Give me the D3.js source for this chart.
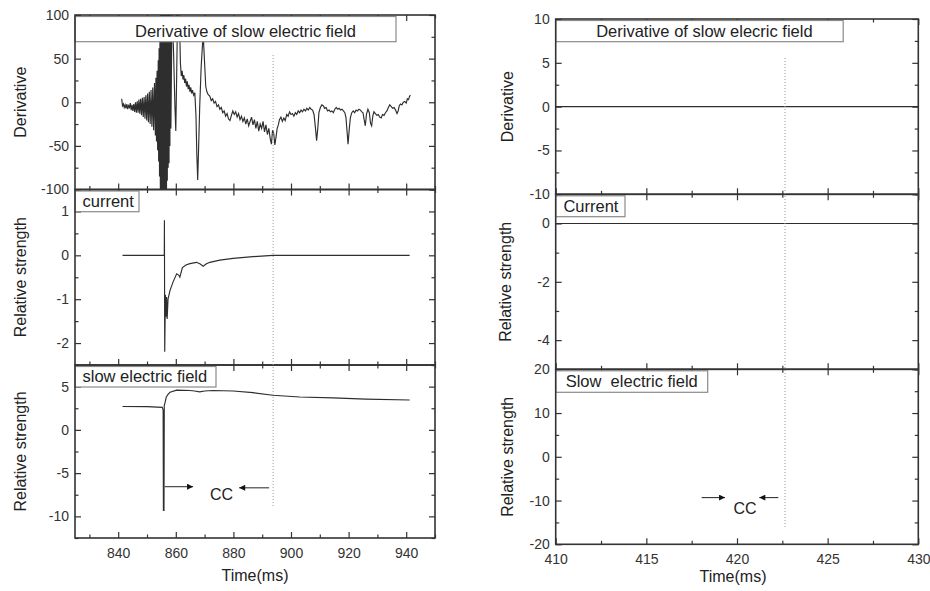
<!DOCTYPE html>
<html>
<head>
<meta charset="utf-8">
<script src="https://cdn.jsdelivr.net/npm/d3@7"></script>
<style>
  body { margin: 0; background: #fff; }
  svg { display: block; font-family: "Liberation Sans", Arial, sans-serif; }
</style>
</head>
<body>
<svg id="chart" width="930" height="591"></svg>
<script>
/*********************************
   DATA
 *********************************/

// Derivative Of Slow Electric Field (Left) As [time ms, value]
const derivPoints = [
  [841.2, 4], [841.5, -4], [841.8, -2], [842.1, -6], [842.4, -3], [842.7, -7], [843.0, -2], [843.3, -8], [843.6, -4], [843.9, -6],
  [844.2, -1], [844.5, -9], [844.8, -3], [845.1, -10], [845.4, -2], [845.7, -11], [846.0, 0], [846.3, -12], [846.6, 1], [846.9, -12],
  [847.2, 3], [847.5, -13], [847.8, 4], [848.1, -15], [848.4, 5], [848.7, -17], [849.0, 6], [849.3, -19], [849.6, 8], [849.9, -21],
  [850.2, 10], [850.5, -23], [850.8, 12], [851.1, -25], [851.4, 14], [851.7, -28], [852.0, 17], [852.3, -32], [852.6, 22], [852.9, -38],
  [853.1, 28], [853.3, -45], [853.5, 36], [853.7, -55], [853.9, 48], [854.05, -68], [854.2, 62], [854.35, -85], [854.5, 80], [854.65, -110],
  [854.8, 105], [854.95, -140], [855.1, 140], [855.25, -160], [855.4, 160], [855.55, -160], [855.7, 160], [855.85, -160], [856.0, 160], [856.15, -160],
  [856.3, 160], [856.45, -160], [856.6, 150], [856.75, -150], [856.9, 140], [857.05, -90], [857.2, 130], [857.35, -75], [857.5, 120], [857.65, -70],
  [857.8, 125], [857.95, -50], [858.1, 130], [858.3, -30], [858.7, 110], [859.2, 60], [859.7, -5], [860.0, -33], [860.3, 30], [860.7, 120],
  [861.2, 110], [861.6, 45], [861.9, 30], [862.2, 36], [862.5, 26], [862.8, 31], [863.1, 22], [863.4, 27], [863.7, 18], [864.0, 24],
  [864.3, 15], [864.6, 20], [864.9, 12], [865.2, 17], [865.5, 10], [865.8, 14], [866.2, 8], [866.6, 11], [867.0, -15], [867.3, -60],
  [867.6, -89], [867.9, -55], [868.3, -5], [868.8, 40], [869.3, 68], [869.6, 72], [870.0, 45], [870.4, 18], [870.8, 12], [871.2, 9],
  [871.8, 7], [872.3, 2], [872.8, 4], [873.3, -1], [873.8, 1], [874.3, -5], [874.8, -3], [875.3, -8], [875.8, -6], [876.3, -12],
  [876.8, -10], [877.3, -16], [877.8, -13], [878.3, -19], [878.8, -21], [879.3, -15], [879.8, -10], [880.3, -14], [880.8, -11], [881.3, -17],
  [881.8, -13], [882.3, -20], [882.8, -16], [883.3, -22], [883.8, -18], [884.3, -25], [884.8, -19], [885.3, -27], [885.8, -22], [886.3, -17],
  [886.8, -26], [887.3, -20], [887.8, -30], [888.3, -22], [888.8, -33], [889.3, -25], [889.8, -30], [890.3, -22], [890.8, -34], [891.3, -26],
  [891.8, -37], [892.3, -30], [892.8, -42], [893.2, -48], [893.6, -32], [894.0, -36], [894.4, -49], [894.8, -40], [895.2, -30], [895.6, -26],
  [896.0, -20], [896.5, -17], [897.0, -22], [897.5, -18], [898.0, -21], [898.5, -14], [899.0, -16], [899.5, -11], [900.0, -14], [900.5, -13],
  [901.0, -16], [901.5, -12], [902.0, -14], [902.5, -10], [903.0, -12], [903.5, -9], [904.0, -11], [904.5, -8], [905.0, -10], [905.5, -7],
  [906.0, -9], [906.5, -6], [907.0, -8], [907.5, -9], [908.0, -14], [908.5, -30], [908.9, -44], [909.3, -30], [909.7, -12], [910.2, -6],
  [910.7, -3], [911.2, -4], [911.7, -7], [912.2, -6], [912.7, -10], [913.2, -9], [913.7, -11], [914.2, -10], [914.7, -12], [915.2, -8],
  [915.7, -6], [916.2, -8], [916.7, -7], [917.2, -9], [917.7, -8], [918.2, -10], [918.7, -12], [919.1, -18], [919.5, -35], [919.8, -48],
  [920.2, -32], [920.6, -18], [921.1, -12], [921.6, -10], [922.1, -12], [922.6, -9], [923.1, -10], [923.6, -8], [924.1, -9], [924.6, -11],
  [925.0, -12], [925.4, -20], [925.8, -27], [926.2, -14], [926.7, -8], [927.2, -12], [927.6, -24], [928.0, -27], [928.4, -16], [928.8, -11],
  [929.3, -13], [929.8, -15], [930.3, -14], [930.8, -17], [931.3, -18], [931.8, -14], [932.3, -15], [932.8, -12], [933.3, -10], [933.8, -6],
  [934.3, -3], [934.8, -5], [935.3, -7], [935.8, -6], [936.3, -9], [936.8, -13], [937.2, -10], [937.6, -4], [938.0, -2], [938.5, -3],
  [939.0, 0], [939.5, 1], [940.0, -1], [940.4, 4], [940.8, 3], [941.2, 7], [941.5, 8]
];

// Current (Left)
const currentPoints = [
  [841.5, 0], [856.0, 0], [856.05, 0.8], [856.15, -2.2], [856.4, -0.9], [856.6, -1.4], [856.8, -0.95], [857.0, -1.45], [857.3, -1.0],
  [858.0, -0.8], [859.1, -0.6], [860.3, -0.42], [861.0, -0.45], [861.4, -0.5], [862.3, -0.28], [863.5, -0.22], [864.9, -0.19],
  [867.2, -0.16], [868.5, -0.2], [869.5, -0.25], [870.5, -0.2], [871.8, -0.16], [875.3, -0.11], [879.9, -0.07], [886.8, -0.03],
  [893.7, 0], [941.2, 0]
];

// Slow Electric Field (Left)
const slowPoints = [
  [841.5, 2.7], [850, 2.68], [855.3, 2.6], [855.6, 2.3], [855.7, -9.3], [855.9, -9.3], [856.0, 2.8], [856.3, 3.2], [856.7, 3.8],
  [857.3, 4.1], [858, 4.35], [860.3, 4.6], [864.9, 4.55], [866.5, 4.5], [868.3, 4.4], [870, 4.5], [872.9, 4.55], [879.9, 4.5],
  [886.8, 4.3], [893.7, 4.0], [903, 3.8], [914.5, 3.7], [926, 3.55], [941.2, 3.45]
];

// Right Column (Flat Lines)
const rightDerivPoints = [[410, 0], [430, 0]];
const rightCurrentPoints = [[410, 0], [430, 0]];

// Tick Values
const leftTimeTicks = [840, 860, 880, 900, 920, 940];
const rightTimeTicks = [410, 415, 420, 425, 430];
const derivTicksLeft = [-100, -50, 0, 50, 100];
const currentTicksLeft = [-2, -1, 0, 1];
const slowTicksLeft = [-10, -5, 0, 5];
const derivTicksRight = [-10, -5, 0, 5, 10];
const currentTicksRight = [-4, -2, 0];
const slowTicksRight = [-20, -10, 0, 10, 20];

// Labels
const leftLabels = ["Derivative of slow electric field", "current", "slow electric field"];
const rightLabels = ["Derivative of slow elecric field", "Current", "Slow  electric field"];
const yAxisLabels = ["Derivative", "Relative strength", "Relative strength"];
const timeLabel = "Time(ms)";

// Dotted Marker Time & CC Arrows [from, to] (Time), Arrow Level, CC Text [time, value]
const leftMarkerTime = 893.8, rightMarkerTime = 422.65;
const leftArrowIn = [856.2, 866.0], leftArrowBack = [892.4, 882.0], leftArrowLevel = [-6.57, -6.7], leftCC = [875.85, -8.1];
const rightArrowIn = [418.05, 419.34], rightArrowBack = [422.28, 421.23], rightArrowLevel = [-9.33, -9.33], rightCC = [420.44, -13.1];

/*********************************
   DRAWING
 *********************************/

let svg = d3.select("#chart");
let ink = "#333";

// Arrow Head Marker
svg.append("defs").append("marker").attr("id", "arrowHead").attr("markerUnits", "userSpaceOnUse")
  .attr("viewBox", "0 0 10 10").attr("refX", 10).attr("refY", 5).attr("markerWidth", 9).attr("markerHeight", 6).attr("orient", "auto")
  .append("path").attr("d", "M0,0 L10,5 L0,10 Z").attr("fill", "#111");

// Draw One Stacked Panel, Returns Its Y Scale
function drawPanel(x, p) {
  let y = d3.scaleLinear().domain(p.domain).range([p.bottom, p.top]);
  let [x0, x1] = x.range();
  let g = svg.append("g");

  // Clip Data To Panel
  svg.append("clipPath").attr("id", "clip" + p.id).append("rect")
    .attr("x", x0).attr("y", p.top).attr("width", x1 - x0).attr("height", p.bottom - p.top);

  // Data Line
  if (p.points) {
    let line = d3.line().x((d) => x(d[0])).y((d) => y(d[1]));
    g.append("path").datum(p.points).attr("d", line)
      .attr("fill", "none").attr("stroke", "#2e2e2e").attr("stroke-width", 1.15)
      .attr("clip-path", "url(#clip" + p.id + ")");
  }

  // Minor Tick Positions
  let yMinor = d3.range(p.domain[0], p.domain[1] + 1e-9, p.yMinor).filter((v) => !p.ticks.includes(v));
  let xDom = x.domain();
  let xMinor = d3.range(Math.ceil(xDom[0] / p.xMinor) * p.xMinor, xDom[1] + 1e-9, p.xMinor).filter((v) => !p.timeTicks.includes(v));

  let axes = [
    [d3.axisLeft(y).tickValues(p.ticks).tickSizeInner(-6).tickPadding(6), "translate(" + x0 + ",0)", true],
    [d3.axisLeft(y).tickValues(yMinor).tickSizeInner(-3.5), "translate(" + x0 + ",0)", false],
    [d3.axisRight(y).tickValues(p.ticks).tickSizeInner(-6), "translate(" + x1 + ",0)", false],
    [d3.axisRight(y).tickValues(yMinor).tickSizeInner(-3.5), "translate(" + x1 + ",0)", false],
    [d3.axisBottom(x).tickValues(p.timeTicks).tickSizeInner(-6).tickPadding(10), "translate(0," + p.bottom + ")", p.showTime],
    [d3.axisBottom(x).tickValues(xMinor).tickSizeInner(-3.5), "translate(0," + p.bottom + ")", false],
    [d3.axisTop(x).tickValues(p.timeTicks).tickSizeInner(-6), "translate(0," + p.top + ")", false],
    [d3.axisTop(x).tickValues(xMinor).tickSizeInner(-3.5), "translate(0," + p.top + ")", false]
  ];
  axes.forEach(([axis, tr, labels]) => {
    axis.tickFormat(labels ? (d) => String(d) : "");
    let a = g.append("g").attr("transform", tr).call(axis.tickSizeOuter(0));
    a.select(".domain").remove();
    a.selectAll("line").attr("stroke", ink).attr("stroke-width", 1.2);
    a.selectAll("text").attr("fill", ink).style("font-size", "14px").style("font-family", "Liberation Sans, Arial, sans-serif");
  });

  // Label Box
  g.append("rect").attr("x", x0).attr("y", p.top + 1.5).attr("width", p.boxWidth).attr("height", p.boxHeight - 1.5)
    .attr("fill", "#fff").attr("stroke", "#8a8a8a").attr("stroke-width", 1.2);
  g.append("text").attr("x", x0 + p.textDx).attr("y", p.top + p.boxHeight - 5).attr("fill", "#222")
    .style("font-size", "16.5px").style("white-space", "pre").text(p.label);

  // Frame
  g.append("rect").attr("x", x0).attr("y", p.top).attr("width", x1 - x0).attr("height", p.bottom - p.top)
    .attr("fill", "none").attr("stroke", ink).attr("stroke-width", 1.6);

  // Y Axis Title
  g.append("text").attr("transform", "translate(" + p.yLabelX + "," + (p.top + p.bottom) / 2 + ") rotate(-90)")
    .attr("text-anchor", "middle").attr("dy", "0.35em").attr("fill", "#222").style("font-size", "16px").text(p.yLabel);

  return y;
}

// Dotted Marker & CC Annotation For One Column
function drawMarker(x, yTop, yBottom, time, fromValue, toValue, arrowIn, arrowBack, level, cc) {
  svg.append("line").attr("x1", x(time)).attr("x2", x(time)).attr("y1", yTop(fromValue)).attr("y2", yBottom(toValue))
    .attr("stroke", "#999").attr("stroke-width", 1).attr("stroke-dasharray", "1,2");
  [[arrowIn, level[0]], [arrowBack, level[1]]].forEach(([a, v]) => {
    svg.append("line").attr("x1", x(a[0])).attr("x2", x(a[1])).attr("y1", yBottom(v)).attr("y2", yBottom(v))
      .attr("stroke", "#222").attr("stroke-width", 1).attr("marker-end", "url(#arrowHead)");
  });
  svg.append("text").attr("x", x(cc[0])).attr("y", yBottom(cc[1])).attr("text-anchor", "middle")
    .attr("fill", "#222").style("font-size", "16px").text("CC");
}

// Left Column
let xLeft = d3.scaleLinear().domain([825, 950]).range([75, 435]);
let leftCommon = { timeTicks: leftTimeTicks, xMinor: 10, yLabelX: 20 };
let yL1 = drawPanel(xLeft, Object.assign({}, leftCommon, { id: "L1", top: 15, bottom: 189.5, domain: [-100, 100], ticks: derivTicksLeft, yMinor: 25,
  points: derivPoints, label: leftLabels[0], boxWidth: 321, boxHeight: 26.7, textDx: 60, yLabel: yAxisLabels[0] }));
drawPanel(xLeft, Object.assign({}, leftCommon, { id: "L2", top: 189.5, bottom: 365, domain: [-2.5, 1.5], ticks: currentTicksLeft, yMinor: 0.5,
  points: currentPoints, label: leftLabels[1], boxWidth: 64, boxHeight: 22.2, textDx: 7.5, yLabel: yAxisLabels[1] }));
let yL3 = drawPanel(xLeft, Object.assign({}, leftCommon, { id: "L3", top: 365, bottom: 538, domain: [-12.5, 7.5], ticks: slowTicksLeft, yMinor: 2.5,
  points: slowPoints, label: leftLabels[2], boxWidth: 141, boxHeight: 22, textDx: 7.5, yLabel: yAxisLabels[2], showTime: true }));
svg.append("text").attr("x", 255).attr("y", 581).attr("text-anchor", "middle").attr("fill", "#222").style("font-size", "16px").text(timeLabel);
drawMarker(xLeft, yL1, yL3, leftMarkerTime, 54.2, -9.0, leftArrowIn, leftArrowBack, leftArrowLevel, leftCC);

// Right Column
let xRight = d3.scaleLinear().domain([410, 430]).range([555.7, 918.3]);
let rightCommon = { timeTicks: rightTimeTicks, xMinor: 2.5 };
let yR1 = drawPanel(xRight, Object.assign({}, rightCommon, { id: "R1", top: 19, bottom: 194.3, domain: [-10, 10], ticks: derivTicksRight, yMinor: 2.5,
  points: rightDerivPoints, label: rightLabels[0], boxWidth: 287.5, boxHeight: 22.7, textDx: 40.5, yLabel: yAxisLabels[0], yLabelX: 507.5 }));
drawPanel(xRight, Object.assign({}, rightCommon, { id: "R2", top: 194.3, bottom: 369.3, domain: [-5, 1], ticks: currentTicksRight, yMinor: 1,
  points: rightCurrentPoints, label: rightLabels[1], boxWidth: 69.3, boxHeight: 22.4, textDx: 7.7, yLabel: yAxisLabels[1], yLabelX: 505 }));
let yR3 = drawPanel(xRight, Object.assign({}, rightCommon, { id: "R3", top: 369.3, bottom: 544.3, domain: [-20, 20], ticks: slowTicksRight, yMinor: 5,
  label: rightLabels[2], boxWidth: 152, boxHeight: 23, textDx: 10, yLabel: yAxisLabels[2], yLabelX: 507.5, showTime: true }));
svg.append("text").attr("x", 733).attr("y", 581.5).attr("text-anchor", "middle").attr("fill", "#222").style("font-size", "16px").text(timeLabel);
drawMarker(xRight, yR1, yR3, rightMarkerTime, 5.55, -16, rightArrowIn, rightArrowBack, rightArrowLevel, rightCC);
</script>
</body>
</html>
